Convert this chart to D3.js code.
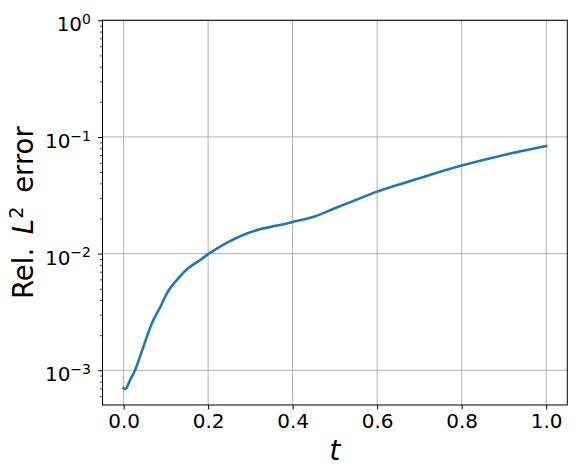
<!DOCTYPE html>
<html>
<head>
<meta charset="utf-8">
<script src="https://cdn.jsdelivr.net/npm/d3@7"></script>
<style>
  body { margin: 0; background: #fff; }
  svg { display: block; font-family: "DejaVu Sans", sans-serif; }
</style>
</head>
<body>
<div id="chart"></div>
<script>
// values
const tValues = [0, 0.005, 0.0156, 0.027, 0.047, 0.067, 0.087, 0.106, 0.126, 0.15, 0.181, 0.2,
  0.245, 0.284, 0.323, 0.363, 0.4, 0.45, 0.5, 0.55, 0.6, 0.7, 0.8, 0.9, 1.0]
const errValues = [7.0e-4, 6.95e-4, 8.3e-4, 1.0e-3, 1.6e-3, 2.53e-3, 3.5e-3, 4.8e-3, 5.95e-3, 7.35e-3, 8.8e-3, 9.9e-3,
  1.24e-2, 1.45e-2, 1.62e-2, 1.74e-2, 1.87e-2, 2.07e-2, 2.45e-2, 2.89e-2, 3.40e-2, 4.43e-2, 5.68e-2, 7.01e-2, 8.37e-2]
const xTicks = [0, 0.2, 0.4, 0.6, 0.8, 1.0]
const yTicks = [1e-3, 1e-2, 1e-1, 1]
const yExponents = ['\u22123', '\u22122', '\u22121', '0']

const W = 576, H = 474
const m = { left: 102.5, right: 576 - 567.3, top: 20.3, bottom: 474 - 405 }

const svg = d3.select('#chart').append('svg')
  .attr('width', W).attr('height', H)

const x = d3.scaleLinear().domain([-0.05, 1.05]).range([m.left, W - m.right])
const y = d3.scaleLog().domain([5.04e-4, 1]).range([H - m.bottom, m.top])

// grid
const grid = svg.append('g').attr('class', 'grid')
grid.selectAll('line.gx').data(xTicks).join('line')
  .attr('x1', d => x(d)).attr('x2', d => x(d))
  .attr('y1', m.top).attr('y2', H - m.bottom)
  .attr('stroke', '#b0b0b0').attr('stroke-width', 1)
grid.selectAll('line.gy').data(yTicks).join('line')
  .attr('x1', m.left).attr('x2', W - m.right)
  .attr('y1', d => y(d)).attr('y2', d => y(d))
  .attr('stroke', '#b0b0b0').attr('stroke-width', 1)

// curve
const data = tValues.map((t, i) => ({ t, e: errValues[i] }))
svg.append('path')
  .datum(data)
  .attr('fill', 'none')
  .attr('stroke', '#1f77b4')
  .attr('stroke-width', 2.6)
  .attr('stroke-linecap', 'square')
  .attr('stroke-linejoin', 'round')
  .attr('d', d3.line().x(d => x(d.t)).y(d => y(d.e)).curve(d3.curveCatmullRom.alpha(0.5)))

// x axis
const xAxis = svg.append('g')
  .attr('transform', `translate(0,${H - m.bottom})`)
  .call(d3.axisBottom(x).tickValues(xTicks).tickFormat(d3.format('.1f')).tickSize(4.4).tickPadding(4.4))
xAxis.select('.domain').remove()
xAxis.selectAll('text').attr('font-size', 20).attr('font-family', 'DejaVu Sans').attr('fill', '#000')
xAxis.selectAll('line').attr('stroke', '#000')

// y axis, minor ticks
const minor = []
for (let k = -4; k < 0; k++) for (let j = 2; j <= 9; j++) {
  const v = j * Math.pow(10, k)
  if (v >= y.domain()[0] && v <= 1) minor.push(v)
}
const yMinor = svg.append('g')
  .attr('transform', `translate(${m.left},0)`)
  .call(d3.axisLeft(y).tickValues(minor).tickFormat('').tickSize(2.5))
yMinor.select('.domain').remove()
yMinor.selectAll('line').attr('stroke', '#000').attr('stroke-width', 0.75)

const yAxis = svg.append('g')
  .attr('transform', `translate(${m.left},0)`)
  .call(d3.axisLeft(y).tickValues(yTicks).tickFormat('').tickSize(4.4))
yAxis.select('.domain').remove()
yAxis.selectAll('line').attr('stroke', '#000')
yAxis.selectAll('.tick').each(function (d, i) {
  const t = d3.select(this).append('text')
    .attr('x', -11.5).attr('y', 10.5)
    .attr('text-anchor', 'end')
    .attr('fill', '#000')
    .attr('font-size', 20)
    .attr('font-family', 'DejaVu Sans')
  t.append('tspan').text('10')
  t.append('tspan').attr('font-size', 14).attr('dy', -7.4).text(yExponents[i])
})

// frame
svg.append('rect')
  .attr('x', m.left).attr('y', m.top)
  .attr('width', W - m.right - m.left).attr('height', H - m.bottom - m.top)
  .attr('fill', 'none').attr('stroke', '#000').attr('stroke-width', 1)

// labels
svg.append('text')
  .attr('x', (m.left + W - m.right) / 2).attr('y', 460)
  .attr('text-anchor', 'middle').attr('font-size', 27.5).attr('font-style', 'italic')
  .text('t')

const yl = svg.append('text')
  .attr('transform', `translate(33,${(m.top + H - m.bottom) / 2}) rotate(-90)`)
  .attr('text-anchor', 'middle').attr('font-size', 27.5)
yl.append('tspan').text('Rel.\u00a0')
yl.append('tspan').attr('dx', 5).attr('font-style', 'italic').text('L')
yl.append('tspan').attr('font-size', 19.25).attr('dy', -10).text('2')
yl.append('tspan').attr('dy', 10).attr('dx', 5).text('\u00a0error')
</script>
</body>
</html>
